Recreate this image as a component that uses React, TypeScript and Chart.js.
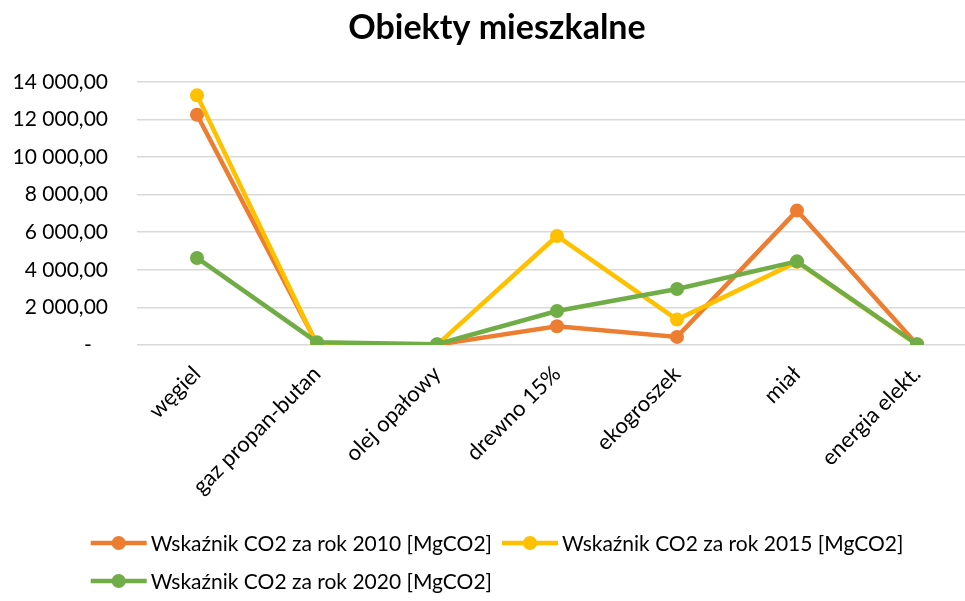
import React, { useEffect, useRef } from "react";
import { Chart, registerables } from "chart.js";

Chart.register(...registerables);

const title = "Obiekty mieszkalne";
const categories = ["węgiel", "gaz propan-butan", "olej opałowy", "drewno 15%", "ekogroszek", "miał", "energia elekt."];
const seriesNames = [
  "Wskaźnik CO2 za rok 2010 [MgCO2]",
  "Wskaźnik CO2 za rok 2015 [MgCO2]",
  "Wskaźnik CO2 za rok 2020 [MgCO2]",
];
const values2010 = [12250, 60, 20, 1000, 430, 7150, 30];
const values2015 = [13280, 20, 10, 5800, 1350, 4420, 20];
const values2020 = [4630, 150, 40, 1810, 2980, 4450, 40];
const colors = ["#ED7D31", "#FFC000", "#70AD47"];

const FONT = "Lato, 'Open Sans', sans-serif";
const W = 994;
const H = 601;

function fmt(v: number): string {
  if (Math.abs(v) < 1e-9) return "-   ";
  const s = Math.round(v).toString().replace(/\B(?=(\d{3})+(?!\d))/g, " ");
  return s + ",00";
}

const legendPlugin = {
  id: "customLegend",
  afterDraw(chart: any) {
    const ctx = chart.ctx as CanvasRenderingContext2D;
    ctx.save();
    ctx.font = `21px ${FONT}`;
    ctx.textBaseline = "middle";
    ctx.textAlign = "left";
    const lineW = 56;
    const gapText = 4;
    const gapItem = 10;
    const widths = seriesNames.map((n) => lineW + gapText + ctx.measureText(n).width);
    const row1 = widths[0] + gapItem + widths[1];
    const startX = W / 2 - row1 / 2;
    const rows = [
      [{ i: 0, x: startX }, { i: 1, x: startX + widths[0] + gapItem }],
      [{ i: 2, x: startX }],
    ];
    const ys = [543, 581];
    rows.forEach((row, r) => {
      row.forEach(({ i, x }) => {
        const y = ys[r];
        ctx.strokeStyle = colors[i];
        ctx.lineWidth = 4.5;
        ctx.lineCap = "butt";
        ctx.beginPath();
        ctx.moveTo(x, y);
        ctx.lineTo(x + lineW, y);
        ctx.stroke();
        ctx.fillStyle = colors[i];
        ctx.beginPath();
        ctx.arc(x + lineW / 2, y, 7, 0, Math.PI * 2);
        ctx.fill();
        ctx.fillStyle = "#000";
        ctx.fillText(seriesNames[i], x + lineW + gapText, y + 1);
      });
    });
    ctx.restore();
  },
};

export default function App() {
  const ref = useRef<HTMLCanvasElement | null>(null);
  useEffect(() => {
    if (!ref.current) return;
    const all = [values2010, values2015, values2020];
    const chart = new Chart(ref.current, {
      type: "line",
      data: {
        labels: categories,
        datasets: all.map((d, i) => ({
          label: seriesNames[i],
          data: d,
          borderColor: colors[i],
          backgroundColor: colors[i],
          pointBackgroundColor: colors[i],
          pointBorderColor: colors[i],
          borderWidth: 4.5,
          pointRadius: 7,
          pointBorderWidth: 0,
          tension: 0,
          order: 3 - i,
        })),
      },
      options: {
        animation: false,
        responsive: false,
        layout: { padding: { left: 0, right: 0, top: 0, bottom: 81 } },
        plugins: {
          legend: { display: false },
          tooltip: { enabled: false },
          title: {
            display: true,
            text: title,
            color: "#000",
            font: { family: FONT, size: 34, weight: "bold", lineHeight: 1.2 },
            padding: { top: 8, bottom: 33 },
          },
        },
        scales: {
          x: {
            offset: true,
            grid: { display: false },
            border: { display: false },
            ticks: {
              color: "#000",
              font: { family: FONT, size: 22 },
              minRotation: 45,
              maxRotation: 45,
              padding: 8,
              autoSkip: false,
            },
            afterFit(scale: any) {
              scale.height = 175;
            },
          },
          y: {
            min: 0,
            max: 14000,
            grid: { color: "#d9d9d9", lineWidth: 1.5, drawTicks: false },
            border: { display: false },
            ticks: {
              stepSize: 2000,
              color: "#000",
              font: { family: FONT, size: 21 },
              padding: 29,
              callback: (v: any) => fmt(Number(v)),
            },
            afterFit(scale: any) {
              scale.width = 137;
            },
          },
          yR: {
            position: "right",
            display: true,
            grid: { display: false, drawTicks: false },
            border: { display: false },
            ticks: { display: false },
            afterFit(scale: any) {
              scale.width = 17;
            },
          },
        },
      },
      plugins: [legendPlugin],
    } as any);
    return () => chart.destroy();
  }, []);
  return (
    <div style={{ position: "fixed", left: 0, top: 0, width: 965, height: 601, overflow: "hidden", background: "#fff" }}>
      <canvas ref={ref} width={W} height={H} style={{ display: "block" }} />
    </div>
  );
}
